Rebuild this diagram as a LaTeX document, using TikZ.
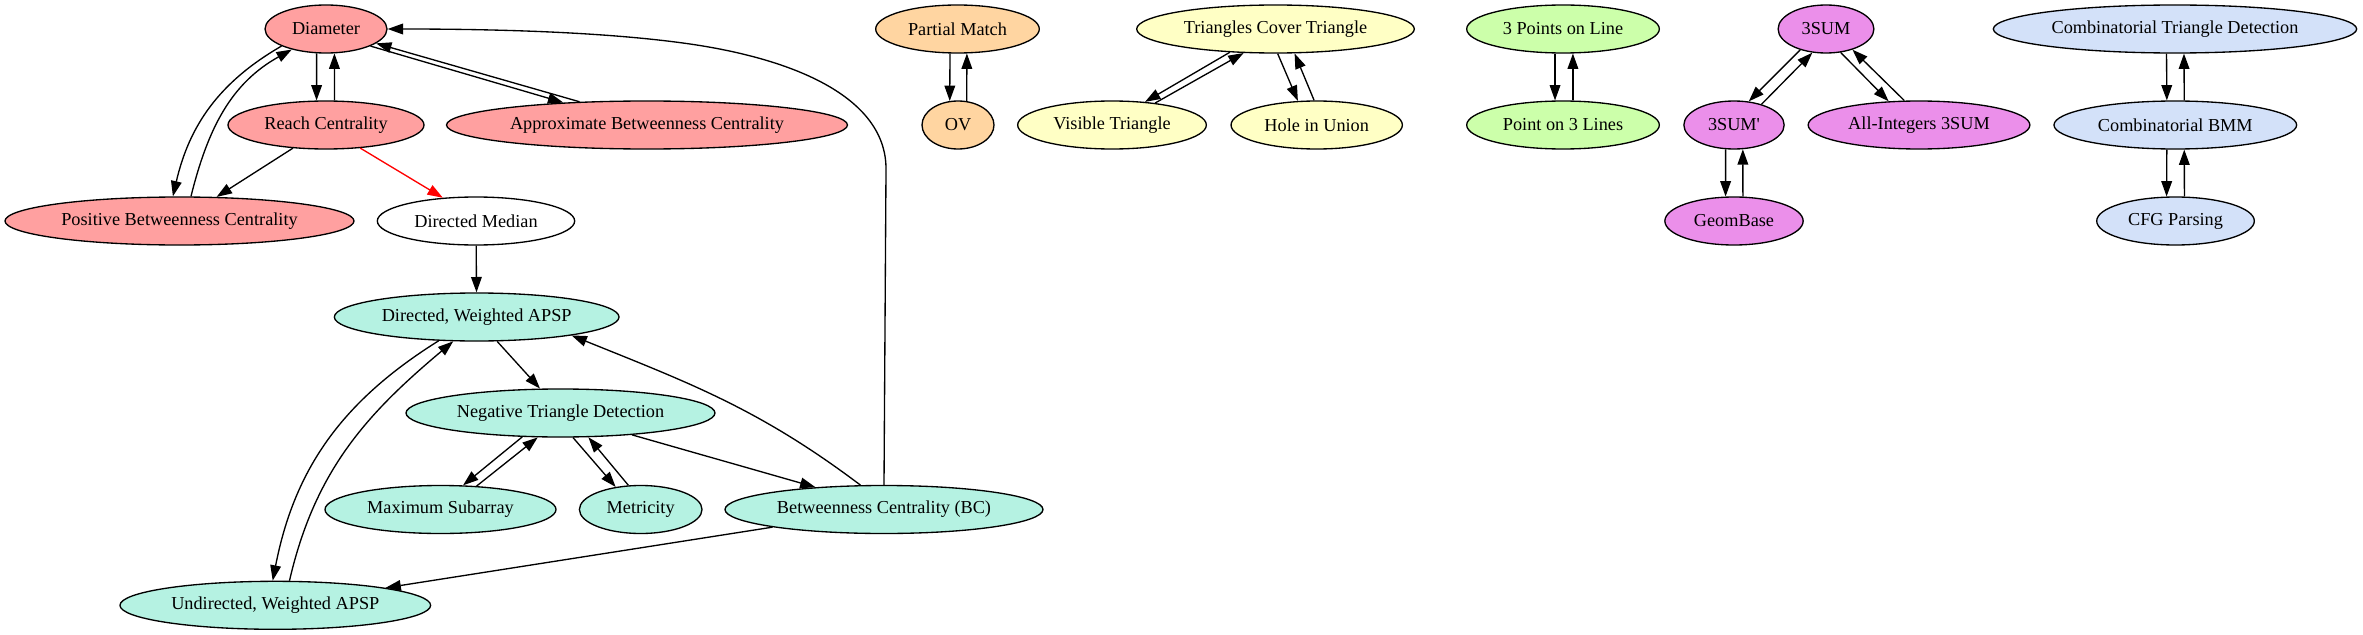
\documentclass[tikz,border=0pt]{standalone}
\usepackage{fontspec}
\setmainfont{Liberation Serif}[Ligatures=TeXOff]
\usetikzlibrary{arrows.meta,shapes.geometric}
\definecolor{nodered}{HTML}{FFA0A0}
\definecolor{nodeteal}{HTML}{B5F2E2}
\definecolor{nodeorange}{HTML}{FFD5A1}
\definecolor{nodeyellow}{HTML}{FFFFC5}
\definecolor{nodegreen}{HTML}{CCFFAA}
\definecolor{nodeviolet}{HTML}{EB8FEA}
\definecolor{nodeblue}{HTML}{D3E1F9}

\begin{document}
\begin{tikzpicture}[x=0.75pt, y=-0.75pt,
  every node/.style={font=\fontsize{13.7}{16}\selectfont},
  prob/.style={ellipse, draw, line width=1pt, minimum height=36pt, inner sep=0pt},
  reduce/.style={-{Triangle[length=11.5pt,width=8pt]}, line width=1pt}]

  \useasboundingbox (0,0) rectangle (2363,635);

  % ---- Diameter cluster (red) ----
  \node[prob, fill=nodered, minimum width=91.5pt] (dia) at (326,29) {Diameter};
  \node[prob, fill=nodered, minimum width=147pt] (reach) at (326,125) {Reach Centrality};
  \node[prob, fill=nodered, minimum width=300.75pt] (abc) at (647,125) {Approximate Betweenness Centrality};
  \node[prob, fill=nodered, minimum width=261.75pt] (pbc) at (179.5,221) {Positive Betweenness Centrality};
  \node[prob, minimum width=148pt] (dm) at (476,221) {Directed Median};

  % ---- APSP cluster (teal) ----
  \node[prob, fill=nodeteal, minimum width=213.5pt] (dwapsp) at (476.7,317) {Directed, Weighted APSP};
  \node[prob, fill=nodeteal, minimum width=231.75pt] (ntd) at (560.5,413) {Negative Triangle Detection};
  \node[prob, fill=nodeteal, minimum width=173.25pt] (ms) at (440.5,509.5) {Maximum Subarray};
  \node[prob, fill=nodeteal, minimum width=92pt] (met) at (640.7,509.5) {Metricity};
  \node[prob, fill=nodeteal, minimum width=238.5pt] (bc) at (884,509.5) {Betweenness Centrality (BC)};
  \node[prob, fill=nodeteal, minimum width=233pt] (uw) at (275.3,605.3) {Undirected, Weighted APSP};

  % ---- OV cluster (orange) ----
  \node[prob, fill=nodeorange, minimum width=122.7pt] (pm) at (957.5,29) {Partial Match};
  \node[prob, fill=nodeorange, minimum width=54pt] (ov) at (958,125) {OV};

  % ---- Triangle cluster (yellow) ----
  \node[prob, fill=nodeyellow, minimum width=208.2pt] (tct) at (1275.5,29) {Triangles Cover Triangle};
  \node[prob, fill=nodeyellow, minimum width=141.5pt] (vt) at (1112,125) {Visible Triangle};
  \node[prob, fill=nodeyellow, minimum width=128.5pt] (hiu) at (1316.7,125) {Hole in Union};

  % ---- Line cluster (green) ----
  \node[prob, fill=nodegreen, minimum width=144.5pt] (tpl) at (1563,29) {3 Points on Line};
  \node[prob, fill=nodegreen, minimum width=144.5pt] (ptl) at (1563,125) {Point on 3 Lines};

  % ---- 3SUM cluster (violet) ----
  \node[prob, fill=nodeviolet, minimum width=71.8pt] (sum) at (1826,29) {3SUM};
  \node[prob, fill=nodeviolet, minimum width=75.2pt] (sumprime) at (1734,125) {3SUM'};
  \node[prob, fill=nodeviolet, minimum width=166.3pt] (ai) at (1919,125) {All-Integers 3SUM};
  \node[prob, fill=nodeviolet, minimum width=103.7pt] (gb) at (1734,221) {GeomBase};

  % ---- BMM cluster (blue) ----
  \node[prob, fill=nodeblue, minimum width=272.5pt] (ctd) at (2175,29) {Combinatorial Triangle Detection};
  \node[prob, fill=nodeblue, minimum width=182pt] (cbmm) at (2175.3,125) {Combinatorial BMM};
  \node[prob, fill=nodeblue, minimum width=118.2pt] (cfg) at (2175.5,221) {CFG Parsing};

  % ---- Reductions around Diameter ----
  \draw[reduce] (dia.249) -- (reach.111);
  \draw[reduce] (reach.71) -- (dia.289);
  \draw[reduce] (dia.339) -- (abc.165);
  \draw[reduce] (abc.161) -- (dia.344);
  \draw[reduce] (dia.201) to[out=210,in=77] (pbc.105);
  \draw[reduce] (pbc.65) to[out=76,in=209] (dia.211);
  \draw[reduce] (reach.215) -- (pbc.33);
  \draw[reduce, red] (reach.326) -- (dm.145);
  \draw[reduce] (dm) -- (dwapsp);
  \draw[reduce] (bc.north) -- (886,170) .. controls (887,100) and (800,60) .. (690,44)
    .. controls (600,31) and (480,29) .. (dia.east);

  % ---- Reductions around APSP ----
  \draw[reduce] (dwapsp.310) -- (ntd.130);
  \draw[reduce] (bc.134) to[out=143,in=338] (dwapsp.349);
  \draw[reduce] (ntd.343) -- (bc.162);
  \draw[reduce] (ntd.212) -- (ms.47);
  \draw[reduce] (ms.33) -- (ntd.227);
  \draw[reduce] (ntd.297) -- (met.138);
  \draw[reduce] (met.117) -- (ntd.319);
  \draw[reduce] (dwapsp.212) to[out=212,in=79] (uw.96);
  \draw[reduce] (uw.60) to[out=77,in=220] (dwapsp.226);
  \draw[reduce] (bc.189) -- (uw.9);

  % ---- Small clusters ----
  \draw[reduce] (pm.253) -- (ov.109);
  \draw[reduce] (ov.70) -- (pm.291);
  \draw[reduce] (tct.207) -- (vt.35);
  \draw[reduce] (vt.27) -- (tct.217);
  \draw[reduce] (tct.275) -- (hiu.128);
  \draw[reduce] (hiu.96) -- (tct.308);
  \draw[reduce] (tpl.252) -- (ptl.108);
  \draw[reduce] (ptl.68) -- (tpl.292);
  \draw[reduce] (sum.219) -- (sumprime.58);
  \draw[reduce] (sumprime.37) -- (sum.240);
  \draw[reduce] (sum.302) -- (ai.142);
  \draw[reduce] (ai.121) -- (sum.322);
  \draw[reduce] (sumprime.251) -- (gb.109);
  \draw[reduce] (gb.70) -- (sumprime.290);
  \draw[reduce] (ctd.251) -- (cbmm.109);
  \draw[reduce] (cbmm.70) -- (ctd.290);
  \draw[reduce] (cbmm.251) -- (cfg.110);
  \draw[reduce] (cfg.70) -- (cbmm.290);

\end{tikzpicture}
\end{document}
